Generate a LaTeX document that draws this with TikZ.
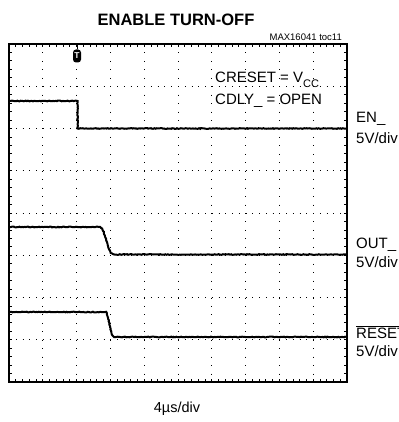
\documentclass[tikz,border=0pt]{standalone}
\usepackage{fontspec}
\setmainfont{Liberation Sans}
\usetikzlibrary{decorations.pathmorphing}
\tikzset{
  trace/.style={line width=2pt, decorate,
    decoration={random steps, segment length=1.2pt, amplitude=0.35pt}},
  vdots/.style={line width=0.9pt, dash pattern=on 0.9pt off 7.55pt},
  hdots/.style={line width=0.9pt, dash pattern=on 0.9pt off 5.86pt},
  lab/.style={anchor=base west, inner sep=0pt, font=\fontsize{15}{17}\selectfont},
}
\begin{document}
\begin{tikzpicture}[x=1pt,y=-1pt]
\useasboundingbox (0,0) rectangle (398,422);
% graticule
\foreach \i in {1,...,9}
  \draw[vdots] (9+\i*33.8,44) -- (9+\i*33.8,382);
\foreach \j in {1,...,7}
  \draw[hdots] (9,44+\j*42.25) -- (347,44+\j*42.25);
\foreach \k in {1,...,49}{
  \draw[line width=0.8pt] (9+\k*6.76,44) -- ++(0,3);
  \draw[line width=0.8pt] (9+\k*6.76,382) -- ++(0,-3);
}
\foreach \k in {1,...,39}{
  \draw[line width=0.8pt] (9,44+\k*8.45) -- ++(3,0);
  \draw[line width=0.8pt] (347,44+\k*8.45) -- ++(-3,0);
}
\draw[line width=2.2pt] (9,44) rectangle (347,382);
% traces
\draw[trace] (10,101) -- (77.6,101) -- (77.6,128.5) -- (346,128.5);
\draw[trace] (10,227) -- (99,227) .. controls (103,227) and (105,236) .. (108,246)
  .. controls (110,252) and (111,254) .. (115,254.5) -- (346,254.5);
\draw[trace] (10,312) -- (105,312) .. controls (107,312) and (108,318) .. (110,326)
  .. controls (111.5,333) and (112,337) .. (115,337) -- (346,337);
% trigger mark
\node[fill=black, text=white, rounded corners=3pt, minimum width=8pt,
  minimum height=13pt, inner sep=0pt, font=\fontsize{8.5}{8.5}\selectfont\bfseries]
  (trig) at (77,56) {T};
\draw[line width=1pt] (77,44) -- (trig.north);
% texts
\node[font=\fontsize{16.5}{18}\selectfont\bfseries] (title) at (176,19.5) {ENABLE TURN-OFF};
\node[anchor=east, inner sep=0pt, font=\fontsize{9.5}{11}\selectfont] (toc) at (342,37.5) {MAX16041 toc11};
\node[lab] (creset) at (215,83) {CRESET = V\raisebox{-0.28em}{\fontsize{11}{11}\selectfont CC}};
\node[lab] (cdly) at (215,105) {CDLY\_ = OPEN};
\node[lab] (en) at (356,122.5) {EN\_};
\node[lab] (enscale) at (356,143.5) {5V/div};
\node[lab] (out) at (356,248) {OUT\_};
\node[lab] (outscale) at (356,267) {5V/div};
\node[lab] (rst) at (356,338) {$\overline{\mbox{RESET}}$};
\node[lab] (rstscale) at (356,356) {5V/div};
\node[font=\fontsize{14.5}{16}\selectfont] (tdiv) at (177,409) {4µs/div};
\end{tikzpicture}
\end{document}
